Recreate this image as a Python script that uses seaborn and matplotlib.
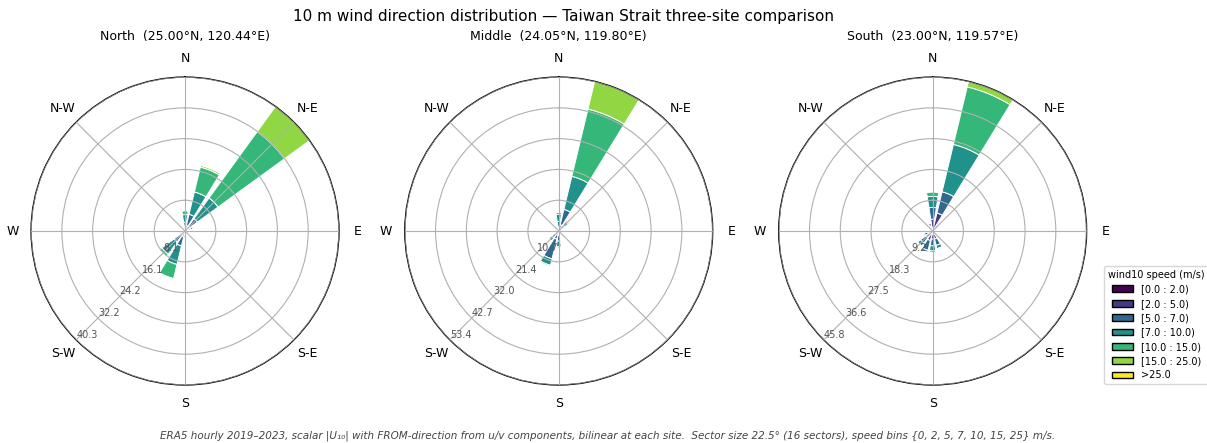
import numpy as np
import matplotlib
matplotlib.use("Agg")
import matplotlib.pyplot as plt
import seaborn as sns
from matplotlib.patches import Patch

# 16 sectors, FROM-direction, clockwise from north
sectors = ["N", "NNE", "NE", "ENE", "E", "ESE", "SE", "SSE",
           "S", "SSW", "SW", "WSW", "W", "WNW", "NW", "NNW"]
speed_labels = ["[0.0 : 2.0)", "[2.0 : 5.0)", "[5.0 : 7.0)", "[7.0 : 10.0)",
                "[10.0 : 15.0)", "[15.0 : 25.0)", ">25.0"]

# frequency (%) per sector, columns = speed bins above
north_freq = [
    [0.3, 0.8, 1.2, 2.0, 1.0, 0.1, 0.0],
    [0.3, 1.2, 3.0, 6.0, 6.7, 0.5, 0.0],
    [0.3, 1.2, 2.5, 6.7, 21.5, 8.1, 0.0],
    [0.3, 0.6, 0.6, 0.6, 0.4, 0.0, 0.0],
    [0.3, 0.5, 0.3, 0.1, 0.0, 0.0, 0.0],
    [0.2, 0.4, 0.2, 0.1, 0.0, 0.0, 0.0],
    [0.2, 0.4, 0.2, 0.0, 0.0, 0.0, 0.0],
    [0.2, 0.5, 0.3, 0.1, 0.0, 0.0, 0.0],
    [0.3, 0.8, 0.6, 0.3, 0.1, 0.0, 0.0],
    [0.3, 1.2, 2.5, 5.0, 3.8, 0.1, 0.0],
    [0.3, 1.0, 2.2, 4.0, 0.7, 0.1, 0.0],
    [0.3, 0.8, 0.5, 0.2, 0.0, 0.0, 0.0],
    [0.2, 0.5, 0.3, 0.1, 0.0, 0.0, 0.0],
    [0.2, 0.4, 0.2, 0.1, 0.0, 0.0, 0.0],
    [0.2, 0.4, 0.3, 0.1, 0.0, 0.0, 0.0],
    [0.3, 0.6, 0.5, 0.3, 0.1, 0.0, 0.0],
]
middle_freq = [
    [0.3, 1.0, 2.0, 2.5, 0.7, 0.1, 0.0],
    [0.4, 1.8, 5.5, 11.8, 24.0, 9.9, 0.0],
    [0.3, 0.8, 1.3, 1.6, 0.6, 0.1, 0.0],
    [0.2, 0.4, 0.3, 0.2, 0.0, 0.0, 0.0],
    [0.2, 0.3, 0.1, 0.0, 0.0, 0.0, 0.0],
    [0.2, 0.3, 0.1, 0.0, 0.0, 0.0, 0.0],
    [0.2, 0.3, 0.1, 0.0, 0.0, 0.0, 0.0],
    [0.2, 0.5, 0.3, 0.2, 0.0, 0.0, 0.0],
    [0.3, 1.2, 2.0, 2.0, 0.5, 0.0, 0.0],
    [0.4, 2.5, 7.0, 2.3, 0.5, 0.0, 0.0],
    [0.3, 1.2, 1.5, 1.2, 0.2, 0.0, 0.0],
    [0.2, 0.6, 0.5, 0.3, 0.0, 0.0, 0.0],
    [0.2, 0.4, 0.2, 0.0, 0.0, 0.0, 0.0],
    [0.2, 0.3, 0.1, 0.0, 0.0, 0.0, 0.0],
    [0.2, 0.3, 0.2, 0.0, 0.0, 0.0, 0.0],
    [0.3, 0.6, 0.6, 0.4, 0.1, 0.0, 0.0],
]
south_freq = [
    [0.5, 3.0, 3.5, 3.3, 1.4, 0.0, 0.0],
    [0.5, 5.0, 6.5, 14.5, 17.6, 1.7, 0.0],
    [0.4, 1.0, 0.7, 0.3, 0.1, 0.0, 0.0],
    [0.3, 0.5, 0.2, 0.0, 0.0, 0.0, 0.0],
    [0.2, 0.3, 0.1, 0.0, 0.0, 0.0, 0.0],
    [0.2, 0.3, 0.1, 0.0, 0.0, 0.0, 0.0],
    [0.3, 0.6, 0.3, 0.1, 0.0, 0.0, 0.0],
    [0.4, 2.0, 2.0, 1.0, 0.1, 0.0, 0.0],
    [0.4, 2.0, 2.0, 1.5, 0.5, 0.0, 0.0],
    [0.4, 2.5, 3.0, 0.7, 0.0, 0.0, 0.0],
    [0.4, 2.0, 2.0, 1.2, 0.0, 0.0, 0.0],
    [0.3, 1.2, 1.0, 0.5, 0.0, 0.0, 0.0],
    [0.3, 0.6, 0.3, 0.0, 0.0, 0.0, 0.0],
    [0.2, 0.4, 0.2, 0.0, 0.0, 0.0, 0.0],
    [0.3, 0.5, 0.3, 0.0, 0.0, 0.0, 0.0],
    [0.4, 1.2, 0.8, 0.3, 0.0, 0.0, 0.0],
]

sites = ["North  (25.00°N, 120.44°E)",
         "Middle  (24.05°N, 119.80°E)",
         "South  (23.00°N, 119.57°E)"]
site_data = [north_freq, middle_freq, south_freq]

cmap = sns.color_palette("viridis", as_cmap=True)
colors = cmap(np.linspace(0, 1, len(speed_labels)))

fig = plt.figure(figsize=(12.07, 4.43), dpi=100)
lefts = [0.0257, 0.3353, 0.6451]

theta = np.deg2rad(np.arange(len(sectors)) * 22.5)
width = np.deg2rad(22.5) * 0.8

for left, name, freq in zip(lefts, sites, site_data):
    ax = fig.add_axes([left, 0.131, 0.2552, 0.695], projection="polar")
    ax.set_theta_zero_location("N")
    ax.set_theta_direction(-1)
    table = np.array(freq)
    bottom = np.zeros(len(sectors))
    for j in range(len(speed_labels)):
        ax.bar(theta, table[:, j], width=width, bottom=bottom,
               color=colors[j], edgecolor="white", linewidth=0.7)
        bottom = bottom + table[:, j]
    rmax = bottom.max()
    ax.set_ylim(0, rmax)
    radii = np.linspace(0, rmax, 6)[1:]
    ax.set_yticks(radii)
    ax.set_yticklabels(["%.1f" % r for r in radii])
    ax.set_rlabel_position(225)
    ax.tick_params(axis="y", labelsize=7, labelcolor="#555555")
    ax.set_xticks(np.deg2rad(np.arange(0, 360, 45)))
    ax.set_xticklabels(["N", "N-E", "E", "S-E", "S", "S-W", "W", "N-W"], fontsize=9)
    ax.tick_params(axis="x", pad=3)
    ax.set_axisbelow(False)
    ax.grid(True, color="#b0b0b0", linewidth=0.8)
    ax.spines["polar"].set_color("black")
    ax.spines["polar"].set_linewidth(1.0)
    ax.set_title(name, fontsize=9, pad=27)

handles = [Patch(facecolor=c, edgecolor="black", label=l) for c, l in zip(colors, speed_labels)]
fig.legend(handles=handles, title="wind10 speed (m/s)", loc="center left",
           bbox_to_anchor=(0.911, 0.266), fontsize=7, title_fontsize=7,
           handlelength=2.2, labelspacing=0.45)

fig.suptitle("10 m wind direction distribution — Taiwan Strait three-site comparison",
             fontsize=11, x=0.467, y=0.962, va="center")
fig.text(0.503, 0.016,
         "ERA5 hourly 2019–2023, scalar |U₁₀| with FROM-direction from u/v components, bilinear at each site.  "
         "Sector size 22.5° (16 sectors), speed bins {0, 2, 5, 7, 10, 15, 25} m/s.",
         ha="center", va="center", fontsize=7.5, style="italic", color="#444444")

fig.savefig("out.png", dpi=100)
